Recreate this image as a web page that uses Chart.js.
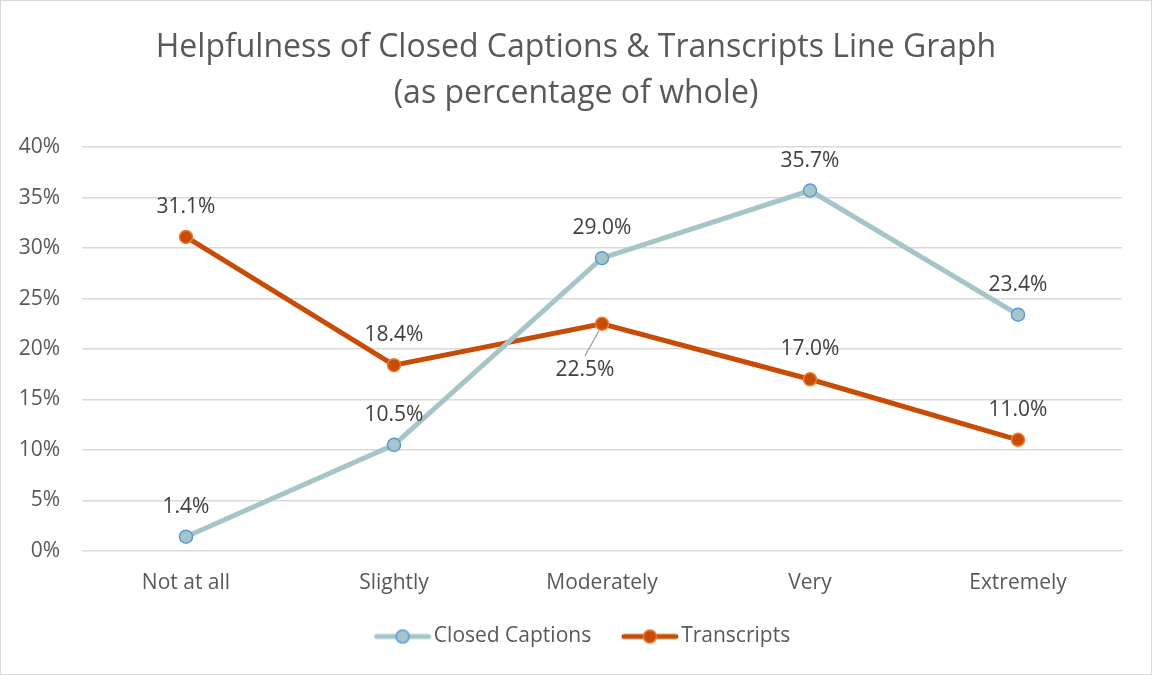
<!DOCTYPE html>
<html>
<head>
<title>Helpfulness of Closed Captions & Transcripts</title>
<script src="https://cdn.jsdelivr.net/npm/chart.js"></script>
<style>
  html, body { margin: 0; padding: 0; background: #fff; }
  .wrap { position: relative; width: 1150px; height: 673px; border: 1px solid #d9d9d9; }
</style>
</head>
<body>
<div class="wrap"><canvas id="chart"></canvas></div>
<script>
// data
var categories = ['Not at all', 'Slightly', 'Moderately', 'Very', 'Extremely'];
var closedCaptions = [1.4, 10.5, 29.0, 35.7, 23.4];
var transcripts = [31.1, 18.4, 22.5, 17.0, 11.0];
var yTicks = [0, 5, 10, 15, 20, 25, 30, 35, 40];

var FONT = "Open Sans, 'Liberation Sans', sans-serif";
var LABEL_SIZE = 21;

// legend symbol: line with a circle, sitting at the right of a wider image
// so the gap to the label text stays small
function legendSymbol(lineColor, fill, border) {
  var c = document.createElement('canvas');
  c.width = 100; c.height = 18;
  var g = c.getContext('2d');
  var x0 = 32, x1 = 88, xm = 60;
  g.strokeStyle = lineColor; g.lineWidth = 5; g.lineCap = 'round';
  g.beginPath(); g.moveTo(x0 + 2, 9); g.lineTo(x1 - 2, 9); g.stroke();
  g.beginPath(); g.arc(xm, 9, 6.5, 0, Math.PI * 2);
  g.fillStyle = fill; g.fill();
  g.lineWidth = 1.5; g.strokeStyle = border; g.stroke();
  return c;
}

var valueLabels = {
  id: 'valueLabels',
  afterDatasetsDraw: function(chart) {
    var ctx = chart.ctx;
    ctx.save();
    ctx.font = LABEL_SIZE + 'px ' + FONT;
    ctx.fillStyle = '#404040';
    ctx.textAlign = 'center';
    ctx.textBaseline = 'middle';
    chart.data.datasets.forEach(function(ds, i) {
      chart.getDatasetMeta(i).data.forEach(function(pt, j) {
        var txt = ds.data[j].toFixed(1) + '%';
        var below = ds.labelBelow && ds.labelBelow[j];
        if (below) {
          ctx.strokeStyle = '#a6a6a6'; ctx.lineWidth = 1.5;
          ctx.beginPath(); ctx.moveTo(pt.x - 3, pt.y + 7); ctx.lineTo(pt.x - 17, pt.y + 32); ctx.stroke();
          ctx.fillText(txt, pt.x - 17, pt.y + 46);
        } else {
          ctx.fillText(txt, pt.x, pt.y - 30);
        }
      });
    });
    ctx.restore();
  }
};

new Chart(document.getElementById('chart'), {
  type: 'line',
  data: {
    labels: categories,
    datasets: [{
      label: 'Closed Captions',
      data: closedCaptions,
      borderColor: '#a5c5c9',
      borderWidth: 5,
      pointRadius: 6.5,
      pointBackgroundColor: '#a5c5c9',
      pointBorderColor: '#5b9bd5',
      pointBorderWidth: 1.5,
      tension: 0,
      legendIcon: legendSymbol('#a5c5c9', '#a5c5c9', '#5b9bd5')
    }, {
      label: 'Transcripts',
      data: transcripts,
      borderColor: '#c84b06',
      borderWidth: 5,
      pointRadius: 6.5,
      pointBackgroundColor: '#c84b06',
      pointBorderColor: '#ed7d31',
      pointBorderWidth: 1.5,
      tension: 0,
      labelBelow: [false, false, true, false, false],
      legendIcon: legendSymbol('#c84b06', '#c84b06', '#ed7d31')
    }]
  },
  options: {
    responsive: true,
    maintainAspectRatio: false,
    animation: false,
    layout: { padding: { left: 13, right: 13, top: 24, bottom: 17 } },
    plugins: {
      title: {
        display: true,
        text: ['Helpfulness of Closed Captions & Transcripts Line Graph', '(as percentage of whole)'],
        color: '#595959',
        font: { family: FONT, size: 32, weight: 'normal', lineHeight: 1.44 },
        padding: { top: 0, bottom: 30 }
      },
      legend: {
        position: 'bottom',
        labels: {
          color: '#595959',
          font: { family: FONT, size: LABEL_SIZE },
          usePointStyle: true,
          pointStyleWidth: 61.5,
          padding: 18,
          generateLabels: function(chart) {
            return chart.data.datasets.map(function(ds, i) {
              return { text: ds.label, pointStyle: ds.legendIcon, fontColor: '#595959',
                       datasetIndex: i, lineWidth: 0, strokeStyle: 'transparent', fillStyle: 'transparent' };
            });
          }
        }
      },
      tooltip: { enabled: false }
    },
    scales: {
      x: {
        offset: true,
        grid: { display: false },
        border: { color: '#d9d9d9', width: 1 },
        ticks: { color: '#595959', font: { family: FONT, size: LABEL_SIZE }, padding: 12 }
      },
      y: {
        min: 0, max: 40,
        afterBuildTicks: function(axis) { axis.ticks = yTicks.map(function(v) { return { value: v }; }); },
        afterFit: function(axis) { axis.width = 68; },
        grid: { color: '#d9d9d9', lineWidth: 1.5, drawTicks: false },
        border: { display: false },
        ticks: { color: '#595959', font: { family: FONT, size: LABEL_SIZE }, padding: 22,
                 callback: function(v) { return v + '%'; } }
      },
      // empty right-hand spacer so the plot ends where the reference does
      spacer: {
        type: 'linear',
        position: 'right',
        grid: { display: false },
        border: { display: false },
        ticks: { display: false },
        afterFit: function(axis) { axis.width = 16; }
      }
    }
  },
  plugins: [valueLabels]
});
</script>
</body>
</html>
